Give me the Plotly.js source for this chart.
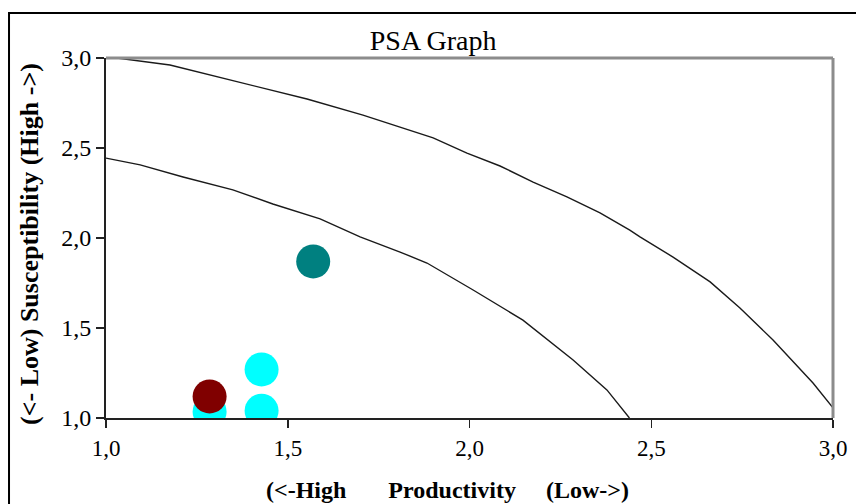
<!DOCTYPE html>
<html>
<head>
<meta charset="utf-8">
<script src="https://cdn.plot.ly/plotly-3.0.1.min.js"></script>
<style>html,body{margin:0;padding:0;background:#fff;}#chart{width:856px;height:504px;}</style>
</head>
<body>
<div id="chart"></div>
<script>
// Upper contour line
const upperX = [1.00, 1.03, 1.176, 1.377, 1.553, 1.707, 1.809, 1.90, 1.993, 2.084, 2.175, 2.268, 2.359, 2.441, 2.469, 2.56, 2.662, 2.744, 2.835, 2.945, 3.00];
const upperY = [3.00, 3.00, 2.961, 2.861, 2.772, 2.683, 2.617, 2.556, 2.472, 2.40, 2.311, 2.228, 2.139, 2.044, 2.006, 1.894, 1.756, 1.611, 1.433, 1.194, 1.056];
// Lower contour line
const lowerX = [1.00, 1.094, 1.212, 1.349, 1.459, 1.589, 1.699, 1.809, 1.883, 2.01, 2.147, 2.285, 2.378, 2.44];
const lowerY = [2.444, 2.406, 2.339, 2.267, 2.189, 2.106, 2.006, 1.922, 1.861, 1.711, 1.544, 1.322, 1.156, 1.00];
// Stocks
const cyanX = [1.285, 1.428, 1.428];
const cyanY = [1.035, 1.04, 1.27];
const redX = [1.285];
const redY = [1.12];
const tealX = [1.57];
const tealY = [1.87];

const xTicks = [1.0, 1.5, 2.0, 2.5, 3.0];
const xTickText = ["1,0", "1,5", "2,0", "2,5", "3,0"];
const yTicks = [1.0, 1.5, 2.0, 2.5, 3.0];
const yTickText = ["1,0", "1,5", "2,0", "2,5", "3,0"];

const serif = "Liberation Serif";

const traces = [
  {x: upperX, y: upperY, mode: "lines", line: {color: "#1a1a1a", width: 1.4}, hoverinfo: "skip"},
  {x: lowerX, y: lowerY, mode: "lines", line: {color: "#1a1a1a", width: 1.4}, hoverinfo: "skip"},
  {x: cyanX, y: cyanY, mode: "markers", marker: {color: "#00FFFF", size: 34, line: {width: 0}}},
  {x: redX, y: redY, mode: "markers", marker: {color: "#800000", size: 34, line: {width: 0}}},
  {x: tealX, y: tealY, mode: "markers", marker: {color: "#008080", size: 34, line: {width: 0}}}
];

const layout = {
  width: 856, height: 504,
  margin: {l: 106, r: 23, t: 58, b: 86},
  paper_bgcolor: "#ffffff",
  plot_bgcolor: "#ffffff",
  showlegend: false,
  font: {family: serif, size: 23, color: "#000"},
  title: {text: "PSA Graph", font: {family: serif, size: 28, color: "#000"},
          x: 0.45, xref: "paper", xanchor: "center", y: 0.921, yref: "container", yanchor: "middle"},
  xaxis: {range: [1, 3], tickvals: xTicks, ticktext: xTickText, showgrid: false, zeroline: false,
          showline: true, linecolor: "#222", linewidth: 2, ticks: "outside", ticklen: 8, tickcolor: "#222",
          tickwidth: 1.5, tickfont: {family: serif, size: 23, color: "#000"}, fixedrange: true},
  yaxis: {range: [1, 3], tickvals: yTicks, ticktext: yTickText, showgrid: false, zeroline: false,
          showline: true, linecolor: "#222", linewidth: 2, ticks: "outside", ticklen: 8, tickcolor: "#222",
          tickwidth: 1.5, tickfont: {family: serif, size: 24, color: "#000"}, fixedrange: true},
  shapes: [
    {type: "line", xref: "paper", yref: "paper", x0: 0, x1: 1, y0: 1, y1: 1, line: {color: "#8c8c8c", width: 3}},
    {type: "line", xref: "paper", yref: "paper", x0: 1, x1: 1, y0: 0, y1: 1, line: {color: "#8c8c8c", width: 3}},
    {type: "rect", xref: "paper", yref: "paper", x0: -0.1334, x1: 1.2, y0: -0.4, y1: 1.125,
     line: {color: "#000", width: 2}, fillcolor: "rgba(0,0,0,0)"}
  ],
  annotations: [
    {text: "<b>(&lt;- Low) Susceptibility (High -&gt;)</b>", textangle: -90, showarrow: false,
     xref: "paper", yref: "paper", x: (30 - 106) / 727, y: (418 - 244) / 360, xanchor: "center", yanchor: "middle",
     font: {family: serif, size: 26, color: "#000"}},
    {text: "<b>(&lt;-High&nbsp;&nbsp;&nbsp;&nbsp;&nbsp;&nbsp;&nbsp;Productivity&nbsp;&nbsp;&nbsp;&nbsp;&nbsp;(Low-&gt;)</b>", showarrow: false,
     xref: "paper", yref: "paper", x: (447 - 106) / 727, y: (418 - 490) / 360, xanchor: "center", yanchor: "middle",
     font: {family: serif, size: 24, color: "#000"}}
  ]
};

Plotly.newPlot("chart", traces, layout, {displayModeBar: false, staticPlot: true});
</script>
</body>
</html>
